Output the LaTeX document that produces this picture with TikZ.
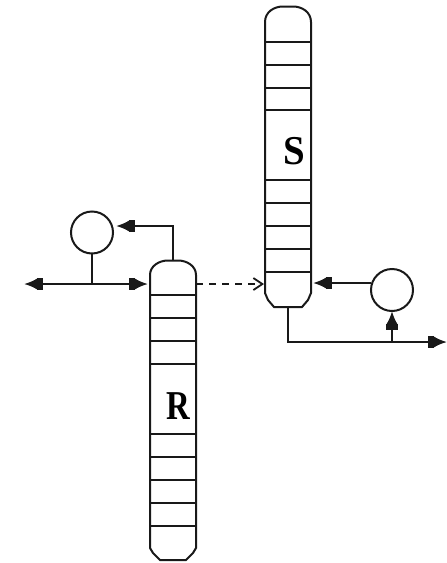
\documentclass[tikz,border=0pt]{standalone}
\usepackage{fontspec}
\setmainfont{Liberation Serif}
\usetikzlibrary{arrows.meta}
\tikzset{
  x=1pt,y=-1pt,
  line/.style={draw=black!90,line width=2pt},
  flow/.style={line,-{Rectangle[length=6pt,width=12pt]Latex[length=13pt,width=11pt,inset=0pt]}},
  openflow/.style={line,dash pattern=on 7pt off 6pt,-{Straight Barb[length=9pt,width=12pt,line width=1.8pt]}},
  drum/.style={circle,line,minimum size=42pt,inner sep=0pt,outer sep=0pt},
  tray/.style={draw=black!90,line width=1.7pt},
  lab/.style={font=\fontsize{41}{41}\selectfont\bfseries,inner sep=0pt},
}
\begin{document}
\begin{tikzpicture}
\useasboundingbox (0,0) rectangle (447,563);
% column S
\draw[line] (265,22) .. controls (265,12) and (274,6.5) .. (283,6.5) -- (293,6.5) .. controls (302,6.5) and (311,12) .. (311,22)
  -- (311,293) -- (308,300) -- (302,307) -- (274,307) -- (268,300) -- (265,293) -- cycle;
\foreach \y in {42,65,88,110,180,203,226,249,272} \draw[tray] (265,\y) -- (311,\y);
\node[lab,xscale=.95] (S) at (294,151) {S};
% column R
\draw[line] (150,275) .. controls (150,266) and (159,260.5) .. (168,260.5) -- (178,260.5) .. controls (187,260.5) and (196,266) .. (196,275)
  -- (196,548) -- (193,553) -- (186,560) -- (160,560) -- (153,553) -- (150,548) -- cycle;
\foreach \y in {295,318,341,364,434,457,480,503,526} \draw[tray] (150,\y) -- (196,\y);
\node[lab,xscale=.8] (R) at (178,406) {R};
% drums
\node[drum] (d1) at (92,232.5) {};
\node[drum] (d2) at (392,290) {};
% named connection points
\coordinate (rtop) at (173,260);
\coordinate (d1in) at (116,226);
\coordinate (rleft) at (148,284);
\coordinate (rright) at (196,284);
\coordinate (sleft) at (264,284);
\coordinate (sright) at (313,283);
\coordinate (sbot) at (288,307);
\coordinate (feed) at (92,284);
\coordinate (west) at (24,284);
\coordinate (prod) at (392,342);
\coordinate (east) at (447,342);
% connectors
\draw[flow] (rtop) |- (d1in);
\draw[line] (d1.south) -- (feed);
\draw[flow] (feed) -- (west);
\draw[flow] (feed) -- (rleft);
\draw[openflow] (rright) -- (sleft);
\draw[flow] (d2.west |- sright) -- (sright);
\draw[line] (sbot) |- (prod);
\draw[flow] (prod) -- (east);
\draw[flow] (prod) -- (d2.south);
\end{tikzpicture}
\end{document}
